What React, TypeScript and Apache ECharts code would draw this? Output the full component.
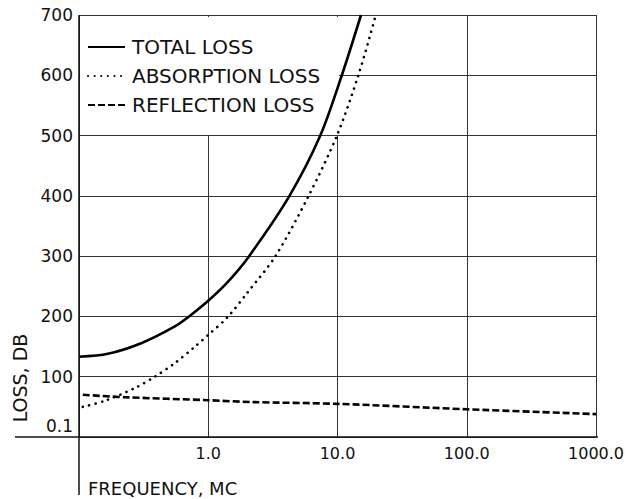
import React, { useEffect, useRef } from "react";
import * as echarts from "echarts";

const yTicks = [0, 100, 200, 300, 400, 500, 600, 700];
const xTickLabels = ["1.0", "10.0", "100.0", "1000.0"];
const seriesNames = ["TOTAL LOSS", "ABSORPTION LOSS", "REFLECTION LOSS"];

const totalFreq = [0.1, 0.167, 0.306, 0.547, 0.71, 1.0, 1.4, 2.07, 4.25, 7.36, 10.8, 15.2];
const totalLoss = [133, 138, 156, 183, 200, 226, 256, 300, 400, 500, 600, 700];

const absFreq = [0.107, 0.158, 0.27, 0.385, 0.547, 0.78, 1.02, 1.4, 2.0, 3.31, 5.98, 9.9, 14.5, 19.5];
const absLoss = [50, 60, 81, 100, 122, 149, 171, 198, 239, 300, 400, 500, 600, 695];

const refFreq = [0.107, 0.226, 1.0, 2.14, 10, 100, 1000];
const refLoss = [70, 66, 61, 58, 55, 46, 38];

const FONT = "DejaVu Sans";

export default function App() {
  const ref = useRef<HTMLDivElement>(null);
  useEffect(() => {
    if (!ref.current) return;
    const chart = echarts.init(ref.current, null, { renderer: "svg" });
    const pair = (xs: number[], ys: number[]) => xs.map((x, i) => [x, ys[i]]);
    chart.setOption({
      animation: false,
      backgroundColor: "#fff",
      grid: { left: 79, top: 15, right: 29, bottom: 62 },
      xAxis: {
        type: "log",
        logBase: 10,
        min: 0.1,
        max: 1000,
        axisLine: { show: false },
        axisTick: { show: false },
        splitLine: { show: true, lineStyle: { color: "#333", width: 1 } },
        axisLabel: {
          margin: 8,
          fontFamily: FONT,
          fontSize: 16,
          color: "#111",
          showMinLabel: false,
          formatter: (v: number) => {
            const idx = Math.round(Math.log10(v));
            return idx >= 0 ? xTickLabels[idx] : "";
          },
        },
      },
      yAxis: {
        type: "value",
        min: 0,
        max: 700,
        interval: 100,
        axisLine: { show: false },
        axisTick: { show: false },
        splitLine: { show: true, lineStyle: { color: "#333", width: 1 } },
        axisLabel: {
          margin: 6,
          fontFamily: FONT,
          fontSize: 17,
          color: "#111",
          formatter: (v: number) => (v === yTicks[0] ? "{low|0.1}" : String(v)),
          rich: {
            low: { fontFamily: FONT, fontSize: 17, color: "#111", padding: [0, 0, 22, 0] },
          },
        },
      },
      legend: {
        orient: "vertical",
        left: 87,
        top: 37,
        padding: 0,
        itemWidth: 37,
        itemHeight: 14,
        itemGap: 9,
        itemStyle: { color: "transparent", borderColor: "transparent", borderWidth: 0 },
        textStyle: { fontFamily: FONT, fontSize: 20, color: "#111", lineHeight: 20, padding: [0, 0, 0, 2] },
        data: seriesNames.map((n) => ({ name: n })),
      },
      graphic: [
        {
          type: "rect",
          z: 1,
          shape: { x: 80, y: 17, width: 259, height: 118 },
          style: { fill: "#fff" },
        },
        {
          type: "line",
          z: 3,
          shape: { x1: 79, y1: 15, x2: 79, y2: 495 },
          style: { stroke: "#111", lineWidth: 1.5 },
        },
        {
          type: "line",
          z: 3,
          shape: { x1: 15, y1: 437, x2: 598, y2: 437 },
          style: { stroke: "#111", lineWidth: 1.5 },
        },
        {
          type: "text",
          left: 88,
          top: 479,
          style: { text: "FREQUENCY, MC", font: `18px "${FONT}"`, fill: "#111" },
        },
        {
          type: "text",
          x: 20,
          y: 378,
          rotation: Math.PI / 2,
          style: {
            text: "LOSS, DB",
            font: `19px "${FONT}"`,
            fill: "#111",
            align: "center",
            verticalAlign: "middle",
          },
        },
      ],
      series: [
        {
          name: seriesNames[0],
          type: "line",
          z: 2,
          smooth: 0.3,
          symbol: "none",
          data: pair(totalFreq, totalLoss),
          lineStyle: { color: "#000", width: 2.6, type: "solid" },
          itemStyle: { color: "#000" },
        },
        {
          name: seriesNames[1],
          type: "line",
          z: 2,
          smooth: 0.3,
          symbol: "none",
          data: pair(absFreq, absLoss),
          lineStyle: { color: "#000", width: 2.6, type: [0.1, 6.5], cap: "round" },
          itemStyle: { color: "#000" },
        },
        {
          name: seriesNames[2],
          type: "line",
          z: 2,
          smooth: 0.3,
          symbol: "none",
          data: pair(refFreq, refLoss),
          lineStyle: { color: "#000", width: 2.6, type: [7, 3] },
          itemStyle: { color: "#000" },
        },
      ],
    });
    return () => chart.dispose();
  }, []);
  return <div ref={ref} style={{ width: 627, height: 499, position: "absolute", left: 0, top: 0 }} />;
}
